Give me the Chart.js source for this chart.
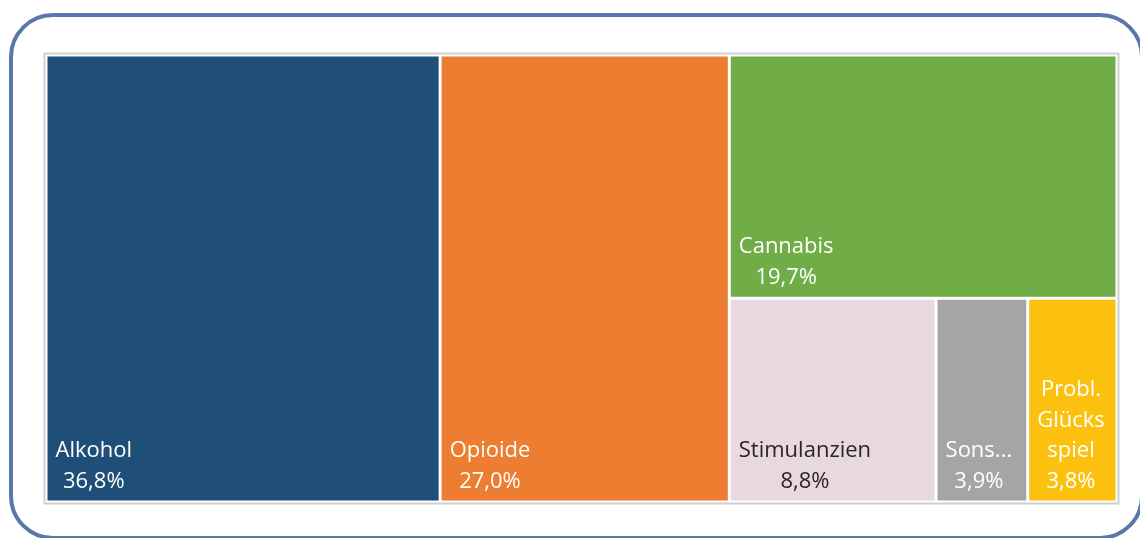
<!DOCTYPE html>
<html><head><meta charset="utf-8">
<script src="https://cdn.jsdelivr.net/npm/chart.js@4.4.0/dist/chart.umd.min.js"></script>
<style>
html,body{margin:0;padding:0;background:#fff;overflow:hidden;width:1140px;height:538px}
#frame{position:absolute;left:9px;top:13px;width:1127px;height:519px;border:4px solid #5b77a9;border-radius:44px}
#wrap{position:absolute;left:0;top:0;width:1140px;height:538px}
</style></head>
<body>
<div id="frame"></div>
<div id="wrap"><canvas id="c" width="1140" height="538"></canvas></div>
<script>
// ---- data ----
const categories = [['Alkohol'], ['Opioide'], ['Cannabis'], ['Stimulanzien'], ['Sons...'], ['Probl.', 'Glücks', 'spiel']];
const shares = [36.8, 27.0, 19.7, 8.8, 3.9, 3.8];
const colors = ['#1f4e79', '#ed7d31', '#70ad47', '#e9d8e0', '#a5a5a5', '#fcc00f'];
const textColors = ['#ffffff', '#ffffff', '#ffffff', '#262626', '#ffffff', '#ffffff'];

// treemap layout in data units (0..100 both axes)
function layout(vals) {
  const total = vals.reduce((a, b) => a + b, 0);
  const rects = [];
  let x = 0;
  for (let i = 0; i < 2; i++) {
    const w = vals[i] / total * 100;
    rects.push({x0: x, x1: x + w, y0: 0, y1: 100});
    x += w;
  }
  const rest = vals.slice(2);
  const restSum = rest.reduce((a, b) => a + b, 0);
  const topH = rest[0] / restSum * 100;
  rects.push({x0: x, x1: 100, y0: 100 - topH, y1: 100});
  const row = rest.slice(1);
  const rowSum = row.reduce((a, b) => a + b, 0);
  let rx = x;
  row.forEach(v => {
    const w = v / rowSum * (100 - x);
    rects.push({x0: rx, x1: rx + w, y0: 0, y1: 100 - topH});
    rx += w;
  });
  return rects;
}

const fmt = v => v.toFixed(1).replace('.', ',') + '%';

const treemapPlugin = {
  id: 'treemap',
  beforeDatasetsDraw(chart) {
    const ctx = chart.ctx, a = chart.chartArea;
    ctx.save();
    ctx.strokeStyle = '#cfcfcf';
    ctx.lineWidth = 2;
    ctx.strokeRect(a.left - 1.5, a.top - 1.5, a.right - a.left + 3, a.bottom - a.top + 3);
    ctx.restore();
  },
  afterDatasetsDraw(chart) {
    const ctx = chart.ctx, xs = chart.scales.x, ys = chart.scales.y;
    const rects = layout(shares);
    const gap = 1.5;
    ctx.save();
    rects.forEach((r, i) => {
      const L = xs.getPixelForValue(r.x0) + gap, R = xs.getPixelForValue(r.x1) - gap;
      const T = ys.getPixelForValue(r.y1) + gap, B = ys.getPixelForValue(r.y0) - gap;
      ctx.fillStyle = colors[i];
      ctx.fillRect(L, T, R - L, B - T);
      const lines = categories[i].concat([fmt(shares[i])]);
      ctx.font = '22px "Open Sans", "DejaVu Sans", sans-serif';
      const wmax = Math.max(...lines.map(s => ctx.measureText(s).width));
      const cx = L + 8 + wmax / 2;
      ctx.fillStyle = textColors[i];
      ctx.textAlign = 'center';
      ctx.textBaseline = 'alphabetic';
      const lh = 30.5;
      lines.forEach((s, k) => {
        const y = B - 13 - (lines.length - 1 - k) * lh;
        ctx.fillText(s, cx, y);
      });
    });
    ctx.restore();
  }
};

function draw() {
  new Chart(document.getElementById('c'), {
    type: 'scatter',
    data: {datasets: [{label: 'Anteil', data: [], pointRadius: 0}]},
    options: {
      responsive: false,
      animation: false,
      layout: {padding: {left: 46, top: 55, right: 23, bottom: 36}},
      plugins: {legend: {display: false}, tooltip: {enabled: false}},
      scales: {
        x: {type: 'linear', min: 0, max: 100, display: false},
        y: {type: 'linear', min: 0, max: 100, display: false}
      }
    },
    plugins: [treemapPlugin]
  });
}
if (document.fonts && document.fonts.load) {
  document.fonts.load('22px "Open Sans"').then(draw, draw);
} else draw();
</script>
</body></html>
